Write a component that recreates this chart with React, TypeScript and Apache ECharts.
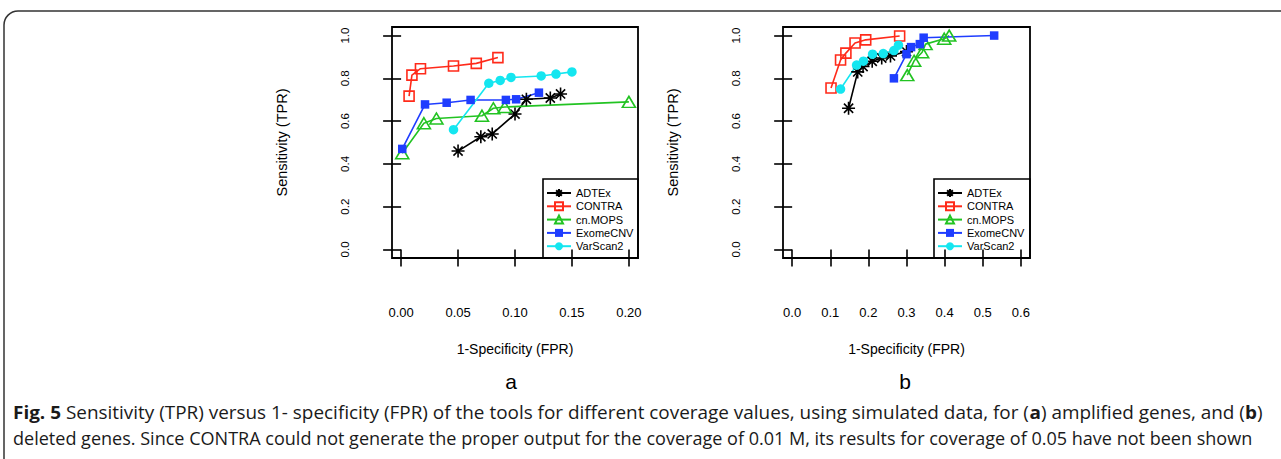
import React, { useEffect, useRef } from "react";
import * as echarts from "echarts";

// ---------- data ----------
const seriesNames = ["ADTEx", "CONTRA", "cn.MOPS", "ExomeCNV", "VarScan2"];
const xTicksA = [0, 0.05, 0.1, 0.15, 0.2];
const xTicksB = [0, 0.1, 0.2, 0.3, 0.4, 0.5, 0.6];
const yTicks = [0, 0.2, 0.4, 0.6, 0.8, 1.0];

// panel a (amplified genes): [FPR, TPR]
const adtexA = [[0.05, 0.46], [0.07, 0.527], [0.08, 0.54], [0.1, 0.633], [0.11, 0.702], [0.131, 0.708], [0.14, 0.727]];
const contraA = [[0.007, 0.717], [0.0095, 0.815], [0.017, 0.845], [0.046, 0.858], [0.066, 0.87], [0.085, 0.897]];
const cnmopsA = [[0.001, 0.45], [0.02, 0.59], [0.031, 0.612], [0.071, 0.625], [0.081, 0.66], [0.091, 0.666], [0.2, 0.69]];
const exomeA = [[0.001, 0.47], [0.021, 0.678], [0.04, 0.686], [0.061, 0.699], [0.092, 0.699], [0.101, 0.702], [0.121, 0.733]];
const varscanA = [[0.046, 0.56], [0.077, 0.777], [0.087, 0.79], [0.0965, 0.804], [0.123, 0.811], [0.136, 0.82], [0.15, 0.83]];

// panel b (deleted genes): [FPR, TPR]
const adtexB = [[0.148, 0.66], [0.172, 0.83], [0.186, 0.855], [0.21, 0.88], [0.235, 0.895], [0.258, 0.905], [0.3, 0.925]];
const contraB = [[0.102, 0.755], [0.127, 0.886], [0.141, 0.918], [0.165, 0.965], [0.193, 0.98], [0.282, 0.998]];
const cnmopsB = [[0.302, 0.815], [0.32, 0.882], [0.341, 0.922], [0.35, 0.96], [0.399, 0.985], [0.412, 1.0]];
const exomeB = [[0.267, 0.8], [0.3, 0.913], [0.312, 0.946], [0.335, 0.96], [0.345, 0.99], [0.53, 1.0]];
const varscanB = [[0.127, 0.75], [0.169, 0.862], [0.187, 0.88], [0.211, 0.913], [0.239, 0.916], [0.267, 0.93], [0.279, 0.955]];

const captionLine1: [string, boolean][] = [
  ["Fig. 5", true],
  [" Sensitivity (TPR) versus 1- specificity (FPR) of the tools for different coverage values, using simulated data, for (", false],
  ["a", true],
  [") amplified genes, and (", false],
  ["b", true],
  [")", false],
];
const captionLine2: [string, boolean][] = [
  ["deleted genes. Since CONTRA could not generate the proper output for the coverage of 0.01 M, its results for coverage of 0.05 have not been shown", false],
];

// ---------- styling ----------
const FONT = '"Liberation Sans", Arial, sans-serif';
const CAP_FONT = '"Open Sans", "Noto Sans", sans-serif';
const ASTERISK =
  "path://M0,-1L0,1M-1,0L1,0M-0.7071,-0.7071L0.7071,0.7071M-0.7071,0.7071L0.7071,-0.7071";

const look: Record<string, any> = {
  ADTEx: { color: "#000000", symbol: ASTERISK, size: 13, item: { color: "rgba(0,0,0,0)", borderColor: "#000", borderWidth: 1.6 } },
  CONTRA: { color: "#ff2a1a", symbol: "rect", size: 10, item: { color: "rgba(0,0,0,0)", borderColor: "#ff2a1a", borderWidth: 1.6 } },
  "cn.MOPS": { color: "#22c322", symbol: "triangle", size: [13, 11], item: { color: "rgba(0,0,0,0)", borderColor: "#22c322", borderWidth: 1.6 } },
  ExomeCNV: { color: "#1f3dff", symbol: "rect", size: 8.5, item: { color: "#1f3dff", borderWidth: 0 } },
  VarScan2: { color: "#14e6f0", symbol: "circle", size: 9.5, item: { color: "#14e6f0", borderWidth: 0 } },
};

function makeSeries(name: string, data: number[][], idx: number) {
  const l = look[name];
  return {
    name,
    type: "line",
    xAxisIndex: idx,
    yAxisIndex: idx,
    data,
    symbol: l.symbol,
    symbolSize: l.size,
    showAllSymbol: true,
    lineStyle: { color: l.color, width: 1.6 },
    itemStyle: l.item,
    emphasis: { disabled: true },
    clip: false,
  };
}

function measure(parts: [string, boolean][], size: number) {
  const c = document.createElement("canvas").getContext("2d")!;
  let w = 0;
  for (const [t, b] of parts) {
    c.font = `${b ? "bold " : ""}${size}px ${CAP_FONT}`;
    w += c.measureText(t).width;
  }
  return w;
}

function richText(parts: [string, boolean][]) {
  return parts.map(([t, b]) => `{${b ? "b" : "n"}|${t}}`).join("");
}

export default function App() {
  const ref = useRef<HTMLDivElement>(null);
  useEffect(() => {
    document.body.style.margin = "0";
    const chart = echarts.init(ref.current!, undefined, { renderer: "svg" });

    const xAxisCommon = (ticks: number[], min: number, max: number, gridIndex: number, digits: number) => ({
      type: "value",
      gridIndex,
      min,
      max,
      position: "bottom",
      name: "1-Specificity (FPR)",
      nameLocation: "middle",
      nameGap: 84,
      nameTextStyle: { fontFamily: FONT, fontSize: 14, color: "#000" },
      axisLine: { show: false },
      splitLine: { show: false },
      axisTick: { show: true, inside: false, length: 17, customValues: ticks, lineStyle: { color: "#000", width: 1.6 } },
      axisLabel: {
        show: true,
        customValues: ticks,
        margin: 48,
        fontFamily: FONT,
        fontSize: 13,
        color: "#000",
        formatter: (v: number) => v.toFixed(digits),
      },
    });
    const yAxisCommon = (gridIndex: number) => ({
      type: "value",
      gridIndex,
      min: -0.04,
      max: 1.04,
      position: "left",
      name: "Sensitivity (TPR)",
      nameLocation: "middle",
      nameGap: 103,
      nameRotate: 90,
      nameTextStyle: { fontFamily: FONT, fontSize: 14.5, color: "#000" },
      axisLine: { show: false },
      splitLine: { show: false },
      axisTick: { show: true, inside: false, length: 18, customValues: yTicks, lineStyle: { color: "#000", width: 1.6 } },
      axisLabel: {
        show: true,
        customValues: yTicks,
        rotate: 90,
        margin: 41,
        fontFamily: FONT,
        fontSize: 11.5,
        color: "#000",
        formatter: (v: number) => v.toFixed(1),
      },
    });

    const capSize = 18.5;
    const s1 = 1249 / measure(captionLine1, capSize);
    const s2 = 1239 / measure(captionLine2, capSize);
    const capRich = {
      n: { fontFamily: CAP_FONT, fontSize: capSize, fontWeight: "normal", fill: "#1a1a1a" },
      b: { fontFamily: CAP_FONT, fontSize: capSize, fontWeight: "bold", fill: "#1a1a1a" },
    };

    const legendCommon = (left: number) => ({
      data: seriesNames,
      orient: "vertical",
      left,
      top: 186.5,
      padding: 0,
      itemWidth: 24,
      itemHeight: 10,
      itemGap: 0.3,
      selectedMode: false,
      textStyle: { fontFamily: FONT, fontSize: 11, color: "#000", lineHeight: 13 },
    });

    chart.setOption({
      animation: false,
      backgroundColor: "#ffffff",
      grid: [
        { left: 392, top: 27, width: 246, height: 231, show: true, borderColor: "#000", borderWidth: 1.8, backgroundColor: "transparent" },
        { left: 783, top: 27, width: 247, height: 231, show: true, borderColor: "#000", borderWidth: 1.8, backgroundColor: "transparent" },
      ],
      xAxis: [xAxisCommon(xTicksA, -0.008, 0.208, 0, 2), xAxisCommon(xTicksB, -0.024, 0.624, 1, 1)],
      yAxis: [yAxisCommon(0), yAxisCommon(1)],
      legend: [legendCommon(546), legendCommon(937)],
      series: [
        makeSeries("ADTEx", adtexA, 0),
        makeSeries("CONTRA", contraA, 0),
        makeSeries("cn.MOPS", cnmopsA, 0),
        makeSeries("ExomeCNV", exomeA, 0),
        makeSeries("VarScan2", varscanA, 0),
        makeSeries("ADTEx", adtexB, 1),
        makeSeries("CONTRA", contraB, 1),
        makeSeries("cn.MOPS", cnmopsB, 1),
        makeSeries("ExomeCNV", exomeB, 1),
        makeSeries("VarScan2", varscanB, 1),
      ],
      graphic: [
        {
          type: "rect",
          shape: { x: 4, y: 11, width: 1400, height: 600, r: 14 },
          style: { fill: "none", stroke: "#333", lineWidth: 1.5 },
          silent: true,
        },
        { type: "rect", shape: { x: 543, y: 179, width: 95, height: 79 }, style: { fill: "none", stroke: "#000", lineWidth: 1.6 }, silent: true },
        { type: "rect", shape: { x: 934, y: 179, width: 96, height: 79 }, style: { fill: "none", stroke: "#000", lineWidth: 1.6 }, silent: true },
        { type: "text", x: 511, y: 381, style: { text: "a", fontFamily: FONT, fontSize: 21, fill: "#000", align: "center", verticalAlign: "middle" } },
        { type: "text", x: 905, y: 381, style: { text: "b", fontFamily: FONT, fontSize: 21, fill: "#000", align: "center", verticalAlign: "middle" } },
        {
          type: "text",
          x: 13,
          y: 412,
          scaleX: s1,
          style: { text: richText(captionLine1), rich: capRich, fontFamily: CAP_FONT, fontSize: capSize, verticalAlign: "middle", align: "left" },
        },
        {
          type: "text",
          x: 13,
          y: 437,
          scaleX: s2,
          style: { text: richText(captionLine2), rich: capRich, fontFamily: CAP_FONT, fontSize: capSize, verticalAlign: "middle", align: "left" },
        },
      ],
    });
    return () => chart.dispose();
  }, []);
  return <div ref={ref} style={{ position: "fixed", left: 0, top: 0, width: 1281, height: 459 }} />;
}
